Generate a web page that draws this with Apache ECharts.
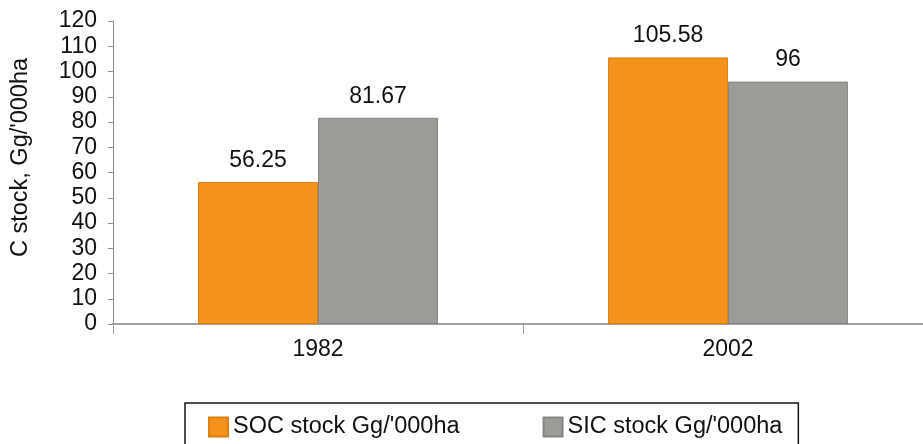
<!DOCTYPE html>
<html>
<head>
<meta charset="utf-8">
<script src="https://cdn.jsdelivr.net/npm/echarts@6/dist/echarts.min.js"></script>
<style>
  html, body { margin: 0; padding: 0; background: #ffffff; }
  #chart { width: 923px; height: 444px; }
</style>
</head>
<body>
<div id="chart"></div>
<script>
// Carbon stock per thousand hectares, by survey year
const years = ['1982', '2002'];
const socStock = [56.25, 105.58];
const sicStock = [81.67, 96];
const seriesNames = ["SOC stock Gg/'000ha", "SIC stock Gg/'000ha"];
const yAxisTitle = "C stock, Gg/'000ha";

const FONT = '"Liberation Sans", Arial, sans-serif';
const TEXT = '#111111';
const FS = 23;

const chart = echarts.init(document.getElementById('chart'), null, { renderer: 'canvas' });

const valueLabel = {
  show: true,
  position: 'top',
  distance: 10,
  color: TEXT,
  fontFamily: FONT,
  fontSize: FS
};

chart.setOption({
  animation: false,
  backgroundColor: '#ffffff',
  grid: {
    left: 113, top: 21, width: 820, bottom: 120,
    containLabel: false,
    outerBoundsMode: 'none'
  },
  legend: {
    left: 185,
    top: 403,
    orient: 'horizontal',
    itemWidth: 19,
    itemHeight: 19,
    itemGap: 83,
    padding: [12, 16, 30, 23],
    borderColor: '#111111',
    borderWidth: 1.5,
    icon: 'rect',
    textStyle: { color: TEXT, fontFamily: FONT, fontSize: 23.5 },
    data: seriesNames
  },
  xAxis: {
    type: 'category',
    data: years,
    axisLine: { lineStyle: { color: '#a0a0a0', width: 2 } },
    axisTick: { show: true, length: 10, lineStyle: { color: '#a0a0a0' } },
    axisLabel: { color: TEXT, fontFamily: FONT, fontSize: FS, margin: 14 }
  },
  yAxis: {
    type: 'value',
    min: 0,
    max: 120,
    interval: 10,
    name: yAxisTitle,
    nameLocation: 'middle',
    nameGap: 80,
    nameTextStyle: { color: TEXT, fontFamily: FONT, fontSize: 23.5, padding: [0, 0, 0, 30] },
    axisLine: { show: true, lineStyle: { color: '#8c8c8c', width: 1 } },
    axisTick: { show: true, length: 5, lineStyle: { color: '#8c8c8c' } },
    axisLabel: { color: TEXT, fontFamily: FONT, fontSize: FS, margin: 16 },
    splitLine: { show: false }
  },
  series: [
    {
      name: seriesNames[0],
      type: 'bar',
      data: socStock,
      barGap: '0%',
      barCategoryGap: '41.5%',
      itemStyle: { color: '#F4921B', borderColor: '#D9800F', borderWidth: 1 },
      label: valueLabel
    },
    {
      name: seriesNames[1],
      type: 'bar',
      data: sicStock,
      itemStyle: { color: '#9B9B97', borderColor: '#858583', borderWidth: 1 },
      label: valueLabel
    }
  ]
});
</script>
</body>
</html>
